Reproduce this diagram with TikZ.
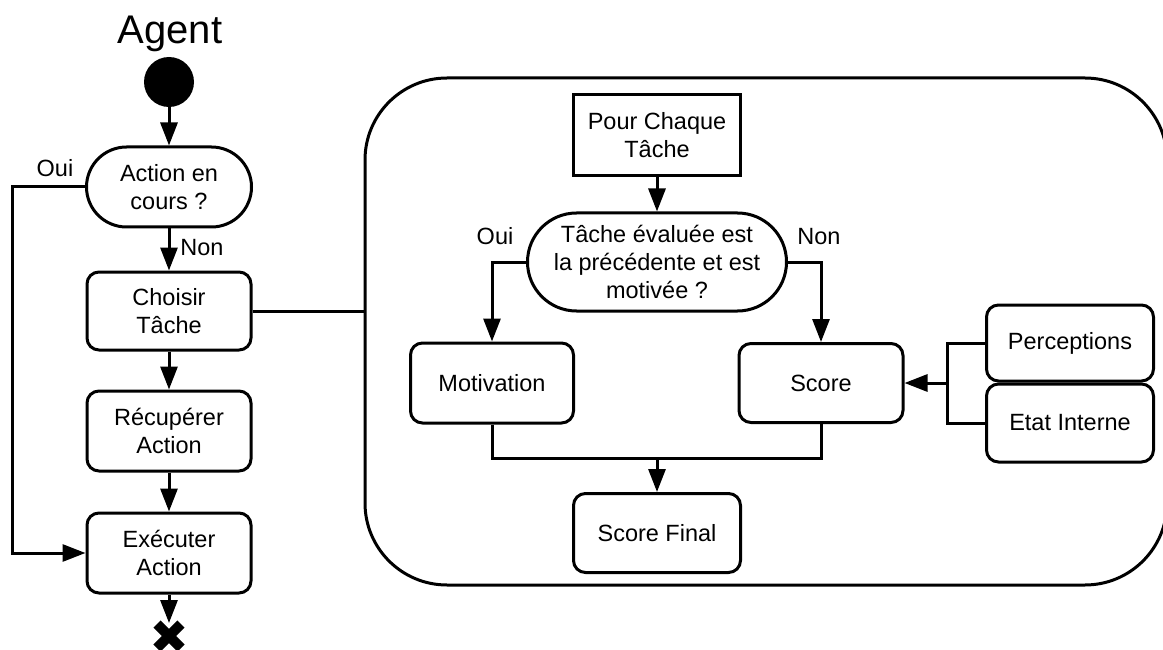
\documentclass[tikz,border=0pt]{standalone}
\usepackage{fontspec}
\setmainfont{Liberation Sans}
\usetikzlibrary{arrows.meta}
\begin{document}
\begin{tikzpicture}[x=1pt,y=-1pt,
  every node/.style={font=\fontsize{23.5}{27.6}\selectfont},
  conn/.style={line width=3pt},
  arr/.style={conn,-{Triangle[length=23pt,width=17pt]}},
  box/.style={draw,line width=3pt,rounded corners=12pt,align=center,inner sep=0pt},
  sqbox/.style={draw,line width=3pt,align=center,inner sep=0pt},
  lbl/.style={anchor=base,inner sep=0pt}
]
\useasboundingbox (0,0) rectangle (1163,650);

% big container
\node[draw,line width=3pt,rounded corners=82pt,minimum width=802pt,minimum height=507pt,inner sep=0pt] (big) at (766,331.5) {};

% left column
\node[lbl,font=\fontsize{40}{48}\selectfont] (agent) at (170,44) {Agent};
\node[circle,fill=black,minimum size=50pt,inner sep=0pt] (start) at (169,82) {};
\node[box,rounded corners=40pt,minimum width=165pt,minimum height=80pt] (dec1) at (169,187) {Action en\\cours ?};
\node[box,minimum width=164pt,minimum height=78pt] (choisir) at (169,311) {Choisir\\Tâche};
\node[box,minimum width=164pt,minimum height=80pt] (recup) at (169,431) {Récupérer\\Action};
\node[box,minimum width=164pt,minimum height=80pt] (exec) at (169,553) {Exécuter\\Action};
\coordinate (endx) at (169,623);
\draw[line width=10pt] (157,624) -- (181,648) (181,624) -- (157,648);

\node[lbl] (oui1) at (55,177) {Oui};
\node[lbl] (non1) at (202,255) {Non};

\coordinate (ouiL) at (12,187);
\draw[arr] (start) -- (dec1);
\draw[arr] (dec1) -- (choisir);
\draw[arr] (choisir) -- (recup);
\draw[arr] (recup) -- (exec);
\draw[arr] (exec) -- (endx);
\draw[arr] (dec1.west) -- (ouiL) |- (exec.west);
\draw[conn] (choisir.east) -- (choisir.east -| big.west);

% inner flow
\node[sqbox,minimum width=167pt,minimum height=81pt] (pour) at (657,135) {Pour Chaque\\Tâche};
\node[box,rounded corners=49pt,minimum width=259pt,minimum height=98pt] (dec2) at (657,262) {Tâche évaluée est\\la précédente et est\\motivée ?};
\node[box,minimum width=163pt,minimum height=80pt] (motiv) at (492,383) {Motivation};
\node[box,minimum width=164pt,minimum height=79pt] (score) at (821,383) {Score};
\node[box,minimum width=167pt,minimum height=76pt] (perc) at (1070,343) {Perceptions};
\node[box,minimum width=167pt,minimum height=78pt] (etat) at (1070,423) {Etat Interne};
\node[box,minimum width=167pt,minimum height=79pt] (final) at (657,533) {Score Final};

\node[lbl] (oui2) at (495,244) {Oui};
\node[lbl] (non2) at (819,244) {Non};

\draw[arr] (pour) -- (dec2);
\draw[arr] (dec2.west) -| (motiv.north);
\draw[arr] (dec2.east) -| (score.north);

\coordinate (j) at (947,383);
\draw[conn] (perc.west) -| (j) |- (etat.west);
\draw[arr] (j) -- (score.east);

\coordinate (m) at (657,458);
\draw[conn] (motiv.south) |- (m) -| (score.south);
\draw[arr] (m) -- (final.north);
\end{tikzpicture}
\end{document}
